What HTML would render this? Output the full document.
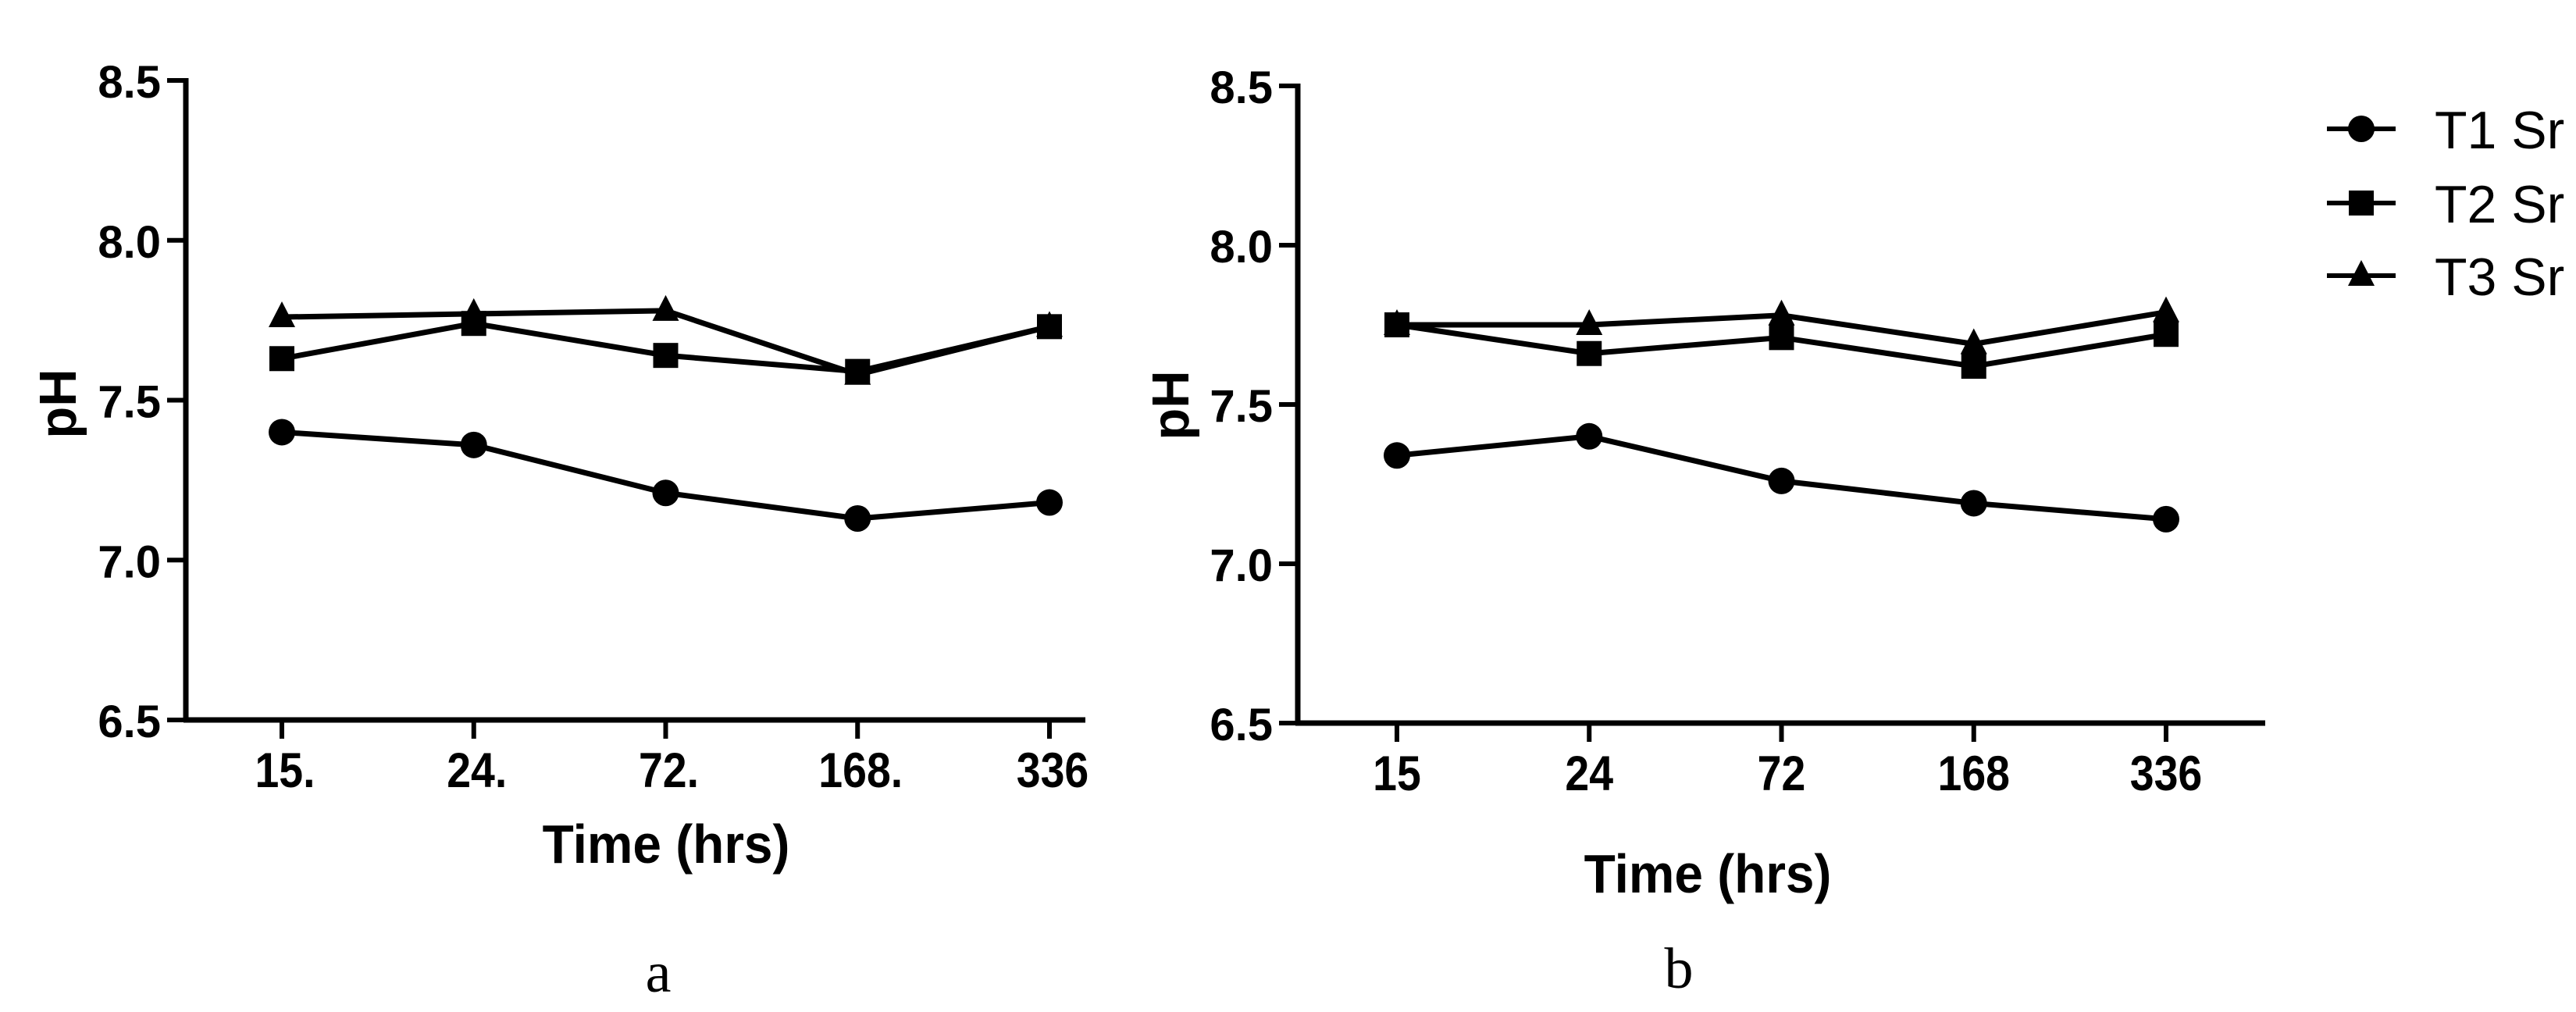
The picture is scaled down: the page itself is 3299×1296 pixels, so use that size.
<!DOCTYPE html>
<html><head><meta charset="utf-8"><style>
html,body{margin:0;padding:0;background:#fff;}
svg{display:block;}
text{font-family:"Liberation Sans",Arial,sans-serif;fill:#000;}
</style></head><body>
<svg id="fig" width="3299" height="1296" viewBox="0 0 3299 1296" xmlns="http://www.w3.org/2000/svg"></svg>
<script>
const categories = ["15", "24", "72", "168", "336"];
const tickLabelsA = ["15.", "24.", "72.", "168.", "336"];
const tickLabelsB = ["15", "24", "72", "168", "336"];
const yTicks = [6.5, 7.0, 7.5, 8.0, 8.5];
const yTickLabels = ["6.5", "7.0", "7.5", "8.0", "8.5"];
const seriesNames = ["T1 Sr", "T2 Sr", "T3 Sr"];
const a_T1 = [7.40, 7.36, 7.21, 7.13, 7.18];
const a_T2 = [7.63, 7.74, 7.64, 7.59, 7.73];
const a_T3 = [7.76, 7.77, 7.78, 7.58, 7.73];
const b_T1 = [7.34, 7.40, 7.26, 7.19, 7.14];
const b_T2 = [7.75, 7.66, 7.71, 7.62, 7.72];
const b_T3 = [7.75, 7.75, 7.78, 7.69, 7.79];

const NS = "http://www.w3.org/2000/svg";
const svg = document.getElementById("fig");
function mk(tag, attrs, parent) {
  const e = document.createElementNS(NS, tag);
  for (const k in attrs) e.setAttribute(k, attrs[k]);
  (parent || svg).appendChild(e);
  return e;
}
function marker(g, kind, x, y) {
  let m;
  if (kind === 0) m = mk("circle", {cx: x, cy: y, r: 17, fill: "#000"}, g);
  else if (kind === 1) m = mk("rect", {x: x - 16, y: y - 16, width: 32, height: 32, fill: "#000"}, g);
  else m = mk("polygon", {points: `${x},${y - 20} ${x + 17},${y + 13} ${x - 17},${y + 13}`, fill: "#000"}, g);
  return m;
}

function panel(cfg) {
  const g = mk("g", {});
  
  
  const n = categories.length;
  const xScale = i => cfg.x0 + i * (cfg.x4 - cfg.x0) / (n - 1);
  const yScale = v => cfg.yBot - (v - 6.5) / 2.0 * (cfg.yBot - cfg.yTop);
  const ya = mk("line", {x1: cfg.ax, y1: cfg.yTop - 3, x2: cfg.ax, y2: cfg.yBot + 3, stroke: "#000", "stroke-width": 7}, g);
  
  
  const xa = mk("line", {x1: cfg.ax - 3, y1: cfg.yBot, x2: cfg.axEnd, y2: cfg.yBot, stroke: "#000", "stroke-width": 7}, g);
  
  
  yTicks.forEach((v, i) => {
    const y = yScale(v);
    mk("line", {x1: cfg.ax - 24, y1: y, x2: cfg.ax, y2: y, stroke: "#000", "stroke-width": 6}, g);
    const t = mk("text", {x: cfg.ax - 32, y: y + 22, "text-anchor": "end", "font-size": 58, "font-weight": "bold"}, g);
    t.textContent = yTickLabels[i];
    
    
  });
  categories.forEach((c, i) => {
    const x = xScale(i);
    mk("line", {x1: x, y1: cfg.yBot, x2: x, y2: cfg.yBot + 24, stroke: "#000", "stroke-width": 6}, g);
    const t = mk("text", {x: 0, y: 0, "text-anchor": "middle", "font-size": 63, "font-weight": "bold",
      transform: `translate(${x + (cfg.labelShift || 0)},${cfg.tickBase}) scale(0.88,1)`}, g);
    t.textContent = cfg.tickLabels[i];
    
    
  });
  const xt = mk("text", {x: 0, y: 0, "text-anchor": "middle", "font-size": 70, "font-weight": "bold",
    transform: `translate(${cfg.titleX},${cfg.titleY}) scale(0.94,1)`}, g);
  xt.textContent = "Time (hrs)";
  
  
  const yt = mk("text", {x: 0, y: 0, "text-anchor": "middle", "font-size": 67, "font-weight": "bold", transform: `translate(${cfg.pHx},${cfg.pHy}) rotate(-90)`}, g);
  yt.textContent = "pH";
  
  
  const pl = mk("text", {x: cfg.letterX, y: cfg.letterY, "text-anchor": "middle", "font-size": 74, style: "font-family:'Liberation Serif',serif"}, g);
  pl.textContent = cfg.letter;
  
  
  [cfg.s1, cfg.s2, cfg.s3].forEach((vals, k) => {
    const sg = mk("g", {}, g);
    
    
    const pts = vals.map((v, i) => xScale(i) + "," + yScale(v)).join(" ");
    const line = mk("polyline", {points: pts, fill: "none", stroke: "#000", "stroke-width": 7, "stroke-linejoin": "round"}, sg);
    
    
    vals.forEach((v, i) => {
      const m = marker(sg, k, xScale(i), yScale(v));
      
      
    });
  });
}

panel({name: "panel-a", ax: 238, axEnd: 1390, x0: 361, x4: 1344, yTop: 103, yBot: 922,
  tickLabels: tickLabelsA, tickBase: 1008, labelShift: 4, titleX: 853, titleY: 1105,
  pHx: 97, pHy: 517, letter: "a", letterX: 843, letterY: 1270,
  s1: a_T1, s2: a_T2, s3: a_T3});
panel({name: "panel-b", ax: 1662, axEnd: 2901, x0: 1789, x4: 2774, yTop: 110, yBot: 926,
  tickLabels: tickLabelsB, tickBase: 1012, labelShift: 0, titleX: 2187, titleY: 1143,
  pHx: 1522, pHy: 519, letter: "b", letterX: 2150, letterY: 1265,
  s1: b_T1, s2: b_T2, s3: b_T3});

const lg = mk("g", {});


const rowsY = [165, 260, 353];
seriesNames.forEach((nm, k) => {
  const eg = mk("g", {}, lg);
  
  
  const y = rowsY[k];
  mk("line", {x1: 2980, y1: y, x2: 3068, y2: y, stroke: "#000", "stroke-width": 6}, eg);
  marker(eg, k, 3024, y);
  const t = mk("text", {x: 3118, y: y + 25, "font-size": 68}, eg);
  t.textContent = nm;
});
</script>
</body></html>
